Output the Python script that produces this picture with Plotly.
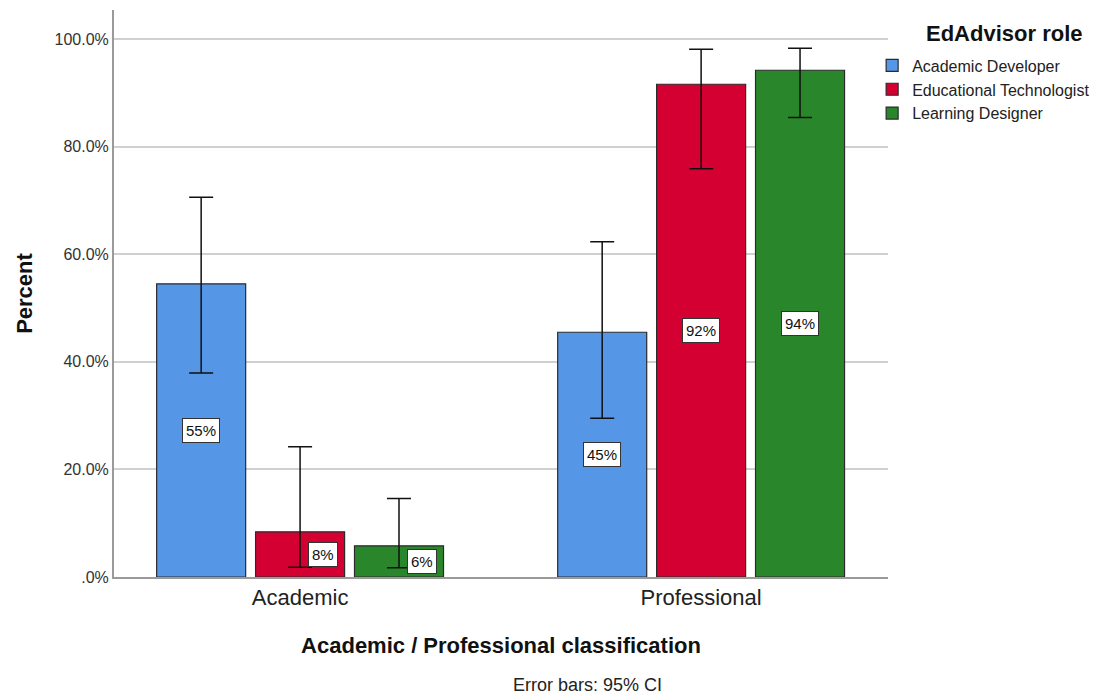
import plotly.graph_objects as go

# Data: percent of each EdAdvisor role classified as Academic / Professional
categories = ["Academic", "Professional"]
roles = ["Academic Developer", "Educational Technologist", "Learning Designer"]
percent = {
    "Academic Developer": [54.5, 45.5],
    "Educational Technologist": [8.4, 91.6],
    "Learning Designer": [5.8, 94.2],
}
ci_upper = {
    "Academic Developer": [70.6, 62.3],
    "Educational Technologist": [24.2, 98.1],
    "Learning Designer": [14.6, 98.3],
}
ci_lower = {
    "Academic Developer": [37.9, 29.5],
    "Educational Technologist": [1.8, 75.9],
    "Learning Designer": [1.7, 85.4],
}
value_labels = {
    "Academic Developer": ["55%", "45%"],
    "Educational Technologist": ["8%", "92%"],
    "Learning Designer": ["6%", "94%"],
}
y_ticks = [0, 20, 40, 60, 80, 100]
y_tick_text = [".0%", "20.0%", "40.0%", "60.0%", "80.0%", "100.0%"]

colors = {
    "Academic Developer": "#5596e6",
    "Educational Technologist": "#d50032",
    "Learning Designer": "#2a862a",
}

FONT = "Arial, Liberation Sans, sans-serif"
BARGAP = 0.26
BARGROUPGAP = 0.10

fig = go.Figure()
for role in roles:
    vals = percent[role]
    up = [u - v for u, v in zip(ci_upper[role], vals)]
    lo = [v - l for v, l in zip(vals, ci_lower[role])]
    fig.add_trace(go.Bar(
        name=role,
        x=categories,
        y=vals,
        marker=dict(color=colors[role], line=dict(color="#2b2b2b", width=1.2)),
        error_y=dict(type="data", symmetric=False, array=up, arrayminus=lo,
                     color="#111111", thickness=1.5, width=12),
        hoverinfo="skip",
    ))

# Boxed value labels at mid-height of each bar
slot = (1 - BARGAP) / len(roles)
annotations = []
for k, role in enumerate(roles):
    for i, cat in enumerate(categories):
        v = percent[role][i]
        annotations.append(dict(
            x=i + (k - (len(roles) - 1) / 2) * slot,
            y=v / 2,
            xref="x", yref="y",
            text=value_labels[role][i],
            showarrow=False,
            xshift=23 if v < 10 else 0,
            font=dict(family=FONT, size=15, color="#111111"),
            bgcolor="white",
            bordercolor="#333333",
            borderwidth=1,
            borderpad=3,
        ))

PLOT_L, PLOT_R, PLOT_T, PLOT_B = 114, 888, 10, 577

# Legend heading (pixel position converted to paper coordinates)
annotations.append(dict(
    x=(1004 - PLOT_L) / (PLOT_R - PLOT_L),
    y=(PLOT_B - 33) / (PLOT_B - PLOT_T),
    xref="paper", yref="paper",
    text="<b>EdAdvisor role</b>", showarrow=False,
    font=dict(family=FONT, size=22, color="#111111"),
    xanchor="center", yanchor="middle",
))

# Footnote
annotations.append(dict(
    x=0.6124, y=-0.1905, xref="paper", yref="paper",
    text="Error bars: 95% CI", showarrow=False,
    font=dict(family=FONT, size=18, color="#222222"),
    xanchor="center", yanchor="middle",
))

fig.update_layout(
    width=1120, height=696,
    margin=dict(l=PLOT_L, r=1120 - PLOT_R, t=PLOT_T, b=696 - PLOT_B,
                autoexpand=False),
    paper_bgcolor="white",
    plot_bgcolor="white",
    barmode="group",
    bargap=BARGAP,
    bargroupgap=BARGROUPGAP,
    font=dict(family=FONT, color="#222222"),
    annotations=annotations,
    showlegend=True,
    legend=dict(
        x=0.9795, xanchor="left", y=0.932, yanchor="top",
        font=dict(family=FONT, size=16, color="#222222"),
        bgcolor="rgba(0,0,0,0)",
    ),
    xaxis=dict(
        type="category",
        range=[-0.464, 1.466],
        showline=True, linecolor="#9a9a9a", linewidth=2,
        showgrid=False, ticks="",
        tickfont=dict(family=FONT, size=22, color="#222222"),
        title=dict(text="<b>Academic / Professional classification</b>",
                   font=dict(family=FONT, size=22, color="#111111"),
                   standoff=28),
    ),
    yaxis=dict(
        range=[0, 105.4],
        tickvals=y_ticks, ticktext=y_tick_text,
        showline=True, linecolor="#9a9a9a", linewidth=2,
        showgrid=True, gridcolor="#d0d0d0", gridwidth=1.5,
        zeroline=False, ticks="",
        tickfont=dict(family=FONT, size=16, color="#333333"),
        title=dict(text="<b>Percent</b>",
                   font=dict(family=FONT, size=22, color="#111111"),
                   standoff=16),
    ),
)

fig.write_html("out.html")
